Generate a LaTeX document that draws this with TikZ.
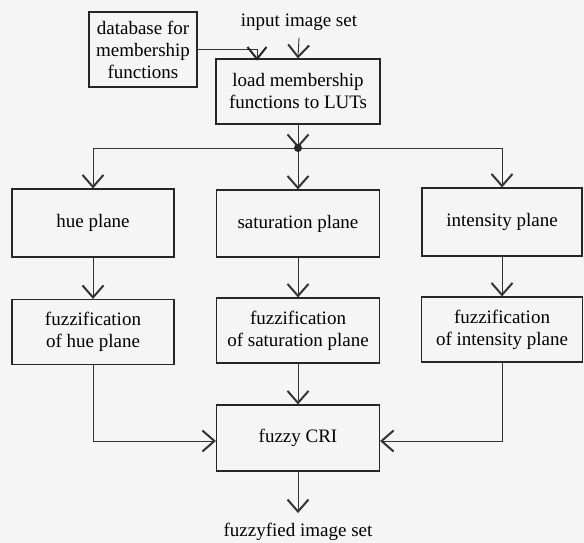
\documentclass[tikz,border=0pt]{standalone}
\usepackage{fontspec}
\setmainfont{Liberation Serif}
\usetikzlibrary{arrows.meta,calc}
\begin{document}
\begin{tikzpicture}[x=1pt,y=-1pt,
  box/.style={draw=black!85, line width=1.1pt, minimum width=162pt, minimum height=67pt,
    align=center, font=\fontsize{19}{22}\selectfont, inner sep=2pt},
  lbl/.style={font=\fontsize{19}{22}\selectfont, inner sep=0pt},
  conn/.style={draw=black!80, line width=0.9pt,
    -{Straight Barb[length=12pt,width=21pt,line width=2pt]}},
  plain/.style={draw=black!80, line width=0.9pt},
  vtip/.style={draw=black!85, line width=2pt, line join=miter}]
\fill[black!4] (0,0) rectangle (584,543);
\useasboundingbox (0,0) rectangle (584,543);

% nodes
\node[box, minimum width=108pt, minimum height=75pt] (db) at (143,49.5) {database for\\membership\\functions};
\node[lbl] (inp) at (299,22) {input image set};
\node[box, minimum width=164pt, minimum height=65pt] (load) at (298,91.5) {load membership\\functions to LUTs};
\coordinate (dbin) at (257,59);
\coordinate (j) at (298,148);

\node[box, minimum width=162pt, minimum height=68pt] (hue) at (93,223) {hue plane};
\node[box, minimum width=163pt, minimum height=67pt] (sat) at (298,223.5) {saturation plane};
\node[box, minimum width=160pt, minimum height=68pt] (int) at (502,222) {intensity plane};

\node[box, minimum width=162pt, minimum height=65pt] (hf) at (93,332) {fuzzification\\of hue plane};
\node[box, minimum width=163pt, minimum height=65pt] (sf) at (298,330.5) {fuzzification\\of saturation plane};
\node[box, minimum width=161pt, minimum height=65pt] (if) at (502,329.5) {fuzzification\\of intensity plane};

\node[box, minimum width=163pt, minimum height=66pt] (cri) at (298,438) {fuzzy CRI};
\node[lbl] (outp) at (298,532) {fuzzyfied image set};

% connectors
\draw[plain] (db.east) -| (dbin);
\draw[vtip] ($(dbin)+(-9.5,-12)$) -- (dbin) -- ($(dbin)+(9.5,-12)$);
\draw[conn] ([yshift=-7pt]inp.south) -- (load.north);
\draw[conn] (load.south) -- (j);
\draw[plain] (j -| hue.north) -- (j -| int.north);
\draw[conn] (j -| hue.north) -- (hue.north);
\draw[conn] (j) -- (sat.north);
\draw[conn] (j -| int.north) -- (int.north);
\fill[black!85] (j) circle (4pt);

\draw[conn] (hue) -- (hf);
\draw[conn] (sat) -- (sf);
\draw[conn] (int) -- (if);

\draw[conn] (hf.south) |- ([yshift=-3pt]cri.west);
\draw[conn] (if.south) |- ([yshift=-3pt]cri.east);
\draw[conn] (sf) -- (cri);
\draw[conn] (cri.south) -- ([yshift=10pt]outp.north);
\end{tikzpicture}
\end{document}
